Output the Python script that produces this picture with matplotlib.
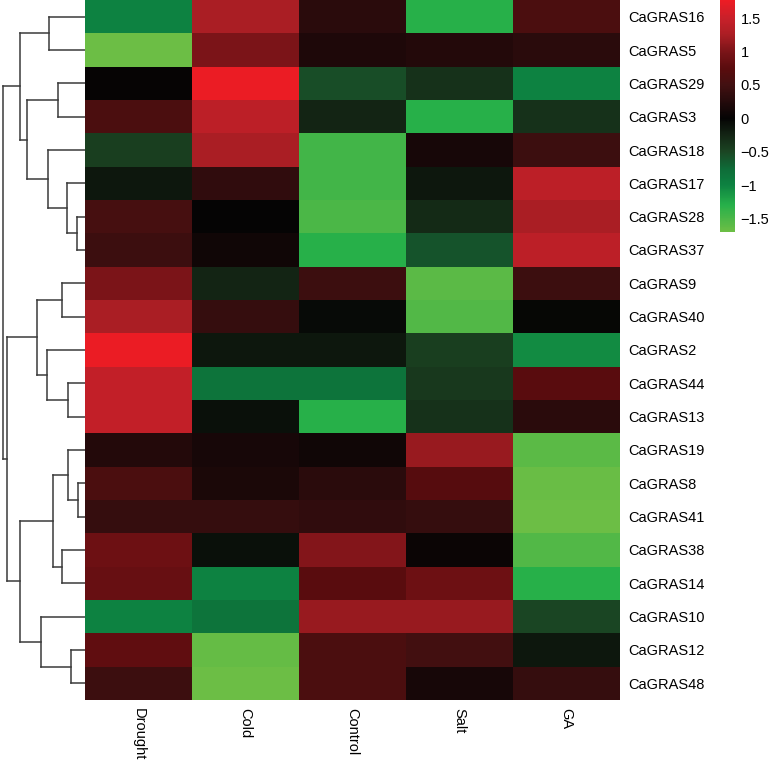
import numpy as np
import matplotlib
matplotlib.use("Agg")
import matplotlib.pyplot as plt
from matplotlib.colors import LinearSegmentedColormap, Normalize
from matplotlib.ticker import FuncFormatter

plt.rcParams['font.family'] = ['Liberation Sans', 'DejaVu Sans']

# Datos
genes = ['CaGRAS16', 'CaGRAS5', 'CaGRAS29', 'CaGRAS3', 'CaGRAS18', 'CaGRAS17',
         'CaGRAS28', 'CaGRAS37', 'CaGRAS9', 'CaGRAS40', 'CaGRAS2', 'CaGRAS44',
         'CaGRAS13', 'CaGRAS19', 'CaGRAS8', 'CaGRAS41', 'CaGRAS38', 'CaGRAS14',
         'CaGRAS10', 'CaGRAS12', 'CaGRAS48']
condiciones = ['Drought', 'Cold', 'Control', 'Salt', 'GA']

drought = [-1.0, -1.7, 0.02, 0.6, -0.45, -0.15, 0.55, 0.45, 1.0, 1.25, 1.75,
           1.45, 1.45, 0.25, 0.6, 0.4, 0.9, 0.85, -1.0, 0.8, 0.45]
cold = [1.25, 1.0, 1.75, 1.4, 1.25, 0.35, 0.0, 0.1, -0.25, 0.4, -0.15,
        -0.85, -0.1, 0.15, 0.18, 0.4, -0.1, -1.0, -0.85, -1.65, -1.7]
control = [0.3, 0.2, -0.55, -0.25, -1.45, -1.45, -1.5, -1.3, 0.45, -0.05, -0.15,
           -0.85, -1.3, 0.1, 0.3, 0.35, 1.05, 0.75, 1.15, 0.6, 0.6]
salt = [-1.3, 0.25, -0.35, -1.3, 0.15, -0.15, -0.3, -0.6, -1.6, -1.55, -0.45,
        -0.4, -0.35, 1.15, 0.7, 0.4, 0.05, 0.9, 1.15, 0.5, 0.15]
ga = [0.6, 0.3, -1.0, -0.35, 0.45, 1.4, 1.25, 1.4, 0.45, -0.03, -1.05,
      0.75, 0.3, -1.6, -1.68, -1.7, -1.55, -1.3, -0.5, -0.15, 0.4]

# Arbol de agrupamiento: (hijo1, hijo2, altura); hojas 0..20, nodos 21..
uniones = [(14, 15, 0.7), (6, 7, 0.8), (19, 20, 1.4), (13, 21, 1.7),
           (11, 12, 1.7), (5, 22, 1.8), (8, 9, 2.3), (16, 17, 2.3),
           (2, 3, 2.7), (24, 28, 3.2), (0, 1, 3.6), (4, 26, 3.7),
           (10, 25, 3.8), (18, 23, 4.4), (27, 33, 4.8), (29, 32, 5.8),
           (31, 36, 6.5), (30, 34, 6.5), (35, 38, 7.8), (37, 39, 8.2)]

datos = np.column_stack([drought, cold, control, salt, ga])
vmin, vmax = -1.7, 1.77

# Paleta verde - negro - rojo
nodos = [(-1.7, '#6CBE45'), (-1.5, '#4AB748'), (-1.3, '#27B04A'),
         (-1.0, '#0D8241'), (-0.75, '#0E6B38'), (-0.5, '#1B4523'),
         (-0.25, '#132414'), (0.0, '#050404'), (0.25, '#240A0B'),
         (0.5, '#421011'), (0.75, '#5A0C0E'), (1.0, '#7A1418'),
         (1.25, '#AA1E24'), (1.5, '#C8202A'), (1.77, '#ED1C24')]
cmap = LinearSegmentedColormap.from_list(
    'gbr', [((v - vmin) / (vmax - vmin), c) for v, c in nodos])
norm = Normalize(vmin=vmin, vmax=vmax)

W, H = 772, 760
fig = plt.figure(figsize=(W / 100, H / 100), dpi=100)

# Mapa de calor
ax = fig.add_axes([85 / W, (H - 700) / H, 535 / W, 700 / H])
ax.imshow(datos, cmap=cmap, norm=norm, aspect='auto', interpolation='nearest')
ax.set_xticks(range(len(condiciones)))
ax.set_xticklabels(condiciones, rotation=270, fontsize=10.5, va='top', ha='center')
ax.set_yticks(range(len(genes)))
ax.set_yticklabels(genes, fontsize=10.5)
ax.yaxis.tick_right()
ax.tick_params(length=0, pad=6)
for s in ax.spines.values():
    s.set_visible(False)

# Dendrograma
axd = fig.add_axes([0, (H - 700) / H, 85 / W, 700 / H])
pos = {i: float(i) for i in range(len(genes))}
alt = {i: 0.0 for i in range(len(genes))}
for k, (a, b, h) in enumerate(uniones):
    n = len(genes) + k
    ya, yb = pos[a], pos[b]
    axd.plot([alt[a], h], [ya, ya], color='#3a3a3a', lw=1.1)
    axd.plot([alt[b], h], [yb, yb], color='#3a3a3a', lw=1.1)
    axd.plot([h, h], [ya, yb], color='#3a3a3a', lw=1.1)
    pos[n] = (ya + yb) / 2
    alt[n] = h
axd.set_xlim(8.5, 0)
axd.set_ylim(len(genes) - 0.5, -0.5)
axd.axis('off')

# Leyenda de color
axc = fig.add_axes([720 / W, (H - 232) / H, 15 / W, 232 / H])
sm = plt.cm.ScalarMappable(cmap=cmap, norm=norm)
cb = fig.colorbar(sm, cax=axc, ticks=[1.5, 1, 0.5, 0, -0.5, -1, -1.5])
cb.outline.set_visible(False)
cb.ax.yaxis.set_major_formatter(FuncFormatter(lambda v, p: f'{v:g}'.replace('-', '\u2212')))
cb.ax.tick_params(length=0, labelsize=10.5, pad=4)

fig.savefig('out.png', dpi=100)
